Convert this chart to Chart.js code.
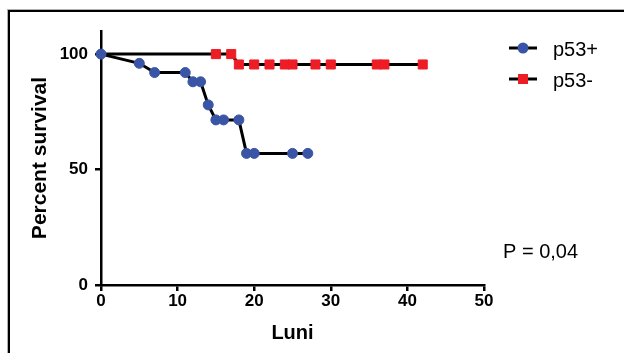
<!DOCTYPE html>
<html>
<head>
<meta charset="utf-8">
<script src="https://cdn.jsdelivr.net/npm/chart.js@4/dist/chart.umd.min.js"></script>
<style>
  html, body { margin: 0; padding: 0; background: #fff; }
  #wrap { position: relative; width: 624px; height: 353px; overflow: hidden; }
  #frame { position: absolute; left: 8px; top: 10px; width: 700px; height: 400px;
           border-top: 2px solid #000; border-left: 2px solid #000;
           box-shadow: -1px -1px 0 0 #b0b0b0; pointer-events: none; }
  canvas { position: absolute; left: 0; top: 0; }
</style>
</head>
<body>
<div id="wrap">
  <div id="frame"></div>
  <canvas id="c" width="624" height="353"></canvas>
</div>
<script>
// ---- data ----
const seriesNames = ["p53+", "p53-"];
const posMonths   = [0, 5, 7, 11, 12, 13, 14, 15, 16, 18, 19, 20, 25, 27];
const posSurvival = [100, 96, 92, 92, 88, 88, 78, 71.5, 71.5, 71.5, 57, 57, 57, 57];
const negMonths   = [0, 15, 17, 18, 20, 22, 24, 25, 28, 30, 36, 37, 42];
const negSurvival = [100, 100, 100, 95.5, 95.5, 95.5, 95.5, 95.5, 95.5, 95.5, 95.5, 95.5, 95.5];
const xTicks = [0, 10, 20, 30, 40, 50];
const yTicks = [0, 50, 100];
const xTitle = "Luni";
const yTitle = "Percent survival";
const pText  = "P = 0,04";

const BLUE = "#3a55a6";
const RED  = "#ee1c25";
const FONT = "'Liberation Sans', Arial, Helvetica, sans-serif";

function pts(xs, ys) { return xs.map((x, i) => ({ x: x, y: ys[i] })); }

const legendPlugin = {
  id: "customLegend",
  afterDraw(chart) {
    const ctx = chart.ctx;
    ctx.save();
    const rows = [
      { y: 48, color: BLUE, shape: "circle", label: seriesNames[0] },
      { y: 79, color: RED,  shape: "rect",   label: seriesNames[1] }
    ];
    rows.forEach(r => {
      ctx.strokeStyle = "#000";
      ctx.lineWidth = 3;
      ctx.beginPath();
      ctx.moveTo(509, r.y);
      ctx.lineTo(537, r.y);
      ctx.stroke();
      ctx.fillStyle = r.color;
      if (r.shape === "circle") {
        ctx.beginPath();
        ctx.arc(523, r.y, 5.5, 0, Math.PI * 2);
        ctx.fill();
      } else {
        ctx.fillRect(518, r.y - 5, 10, 10);
      }
      ctx.fillStyle = "#000";
      ctx.font = "20px " + FONT;
      ctx.textBaseline = "middle";
      ctx.textAlign = "left";
      ctx.fillText(r.label, 553, r.y + 2);
    });
    ctx.font = "20px " + FONT;
    ctx.textBaseline = "middle";
    ctx.fillText(pText, 503, 252);
    ctx.restore();
  }
};

new Chart(document.getElementById("c"), {
  type: "line",
  data: {
    datasets: [
      {
        label: seriesNames[0],
        data: pts(posMonths, posSurvival),
        borderColor: "#000",
        borderWidth: 3,
        backgroundColor: BLUE,
        pointBackgroundColor: BLUE,
        pointBorderColor: BLUE,
        pointBorderWidth: 1,
        pointRadius: 5,
        pointStyle: "circle",
        tension: 0,
        clip: false
      },
      {
        label: seriesNames[1],
        data: pts(negMonths, negSurvival),
        borderColor: "#000",
        borderWidth: 3,
        backgroundColor: RED,
        pointBackgroundColor: RED,
        pointBorderColor: RED,
        pointBorderWidth: 1,
        pointRadius: ctx => ctx.dataIndex === 0 ? 0 : 6.4,
        pointStyle: "rect",
        tension: 0,
        clip: false
      }
    ]
  },
  options: {
    responsive: false,
    animation: false,
    devicePixelRatio: 1,
    layout: { padding: { left: 0, top: 31, right: 140, bottom: 0 } },
    plugins: { legend: { display: false }, tooltip: { enabled: false } },
    scales: {
      x: {
        type: "linear",
        min: 0, max: 50,
        afterBuildTicks: s => { s.ticks = xTicks.map(v => ({ value: v })); },
        afterFit: s => { s.height = 68; },
        border: { display: true, color: "#000", width: 2.5 },
        grid: { display: true, drawOnChartArea: false, drawTicks: true, tickLength: 6, color: "#000", lineWidth: 2.5 },
        ticks: { color: "#000", font: { family: FONT, size: 17, weight: "bold" }, padding: 0, maxRotation: 0 },
        title: { display: true, text: xTitle, color: "#000", font: { family: FONT, size: 20, weight: "bold" }, padding: { top: 0, bottom: 8 } }
      },
      y: {
        type: "linear",
        min: 0, max: 110,
        afterBuildTicks: s => { s.ticks = yTicks.map(v => ({ value: v })); },
        afterFit: s => { s.width = 101; },
        border: { display: true, color: "#000", width: 2.5 },
        grid: { display: true, drawOnChartArea: false, drawTicks: true, tickLength: 6, color: "#000", lineWidth: 2.5 },
        ticks: { color: "#000", font: { family: FONT, size: 17, weight: "bold" }, padding: 7 },
        title: { display: true, text: yTitle, color: "#000", font: { family: FONT, size: 21, weight: "bold" }, padding: { top: 28, bottom: 0 } }
      }
    }
  },
  plugins: [legendPlugin]
});
</script>
</body>
</html>
